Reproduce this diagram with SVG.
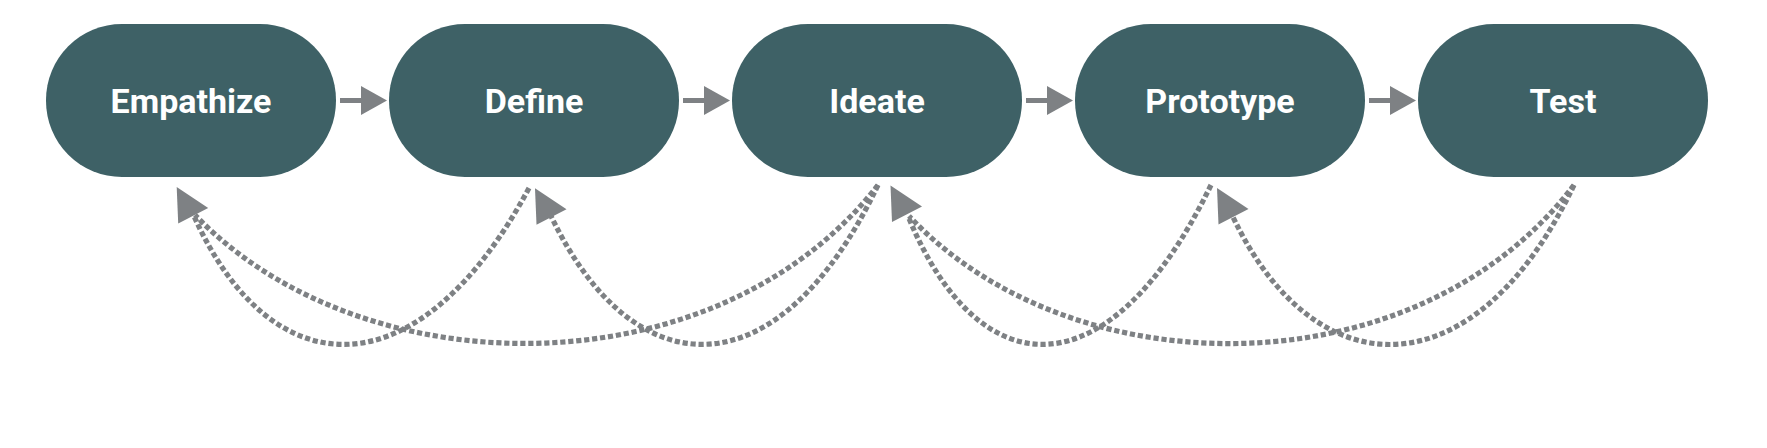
<svg xmlns="http://www.w3.org/2000/svg" width="1767" height="448" viewBox="0 0 1767 448">
  <style>
    .node { fill: #3e6166; }
    .label { fill: #ffffff; font-family: Roboto, "Liberation Sans", sans-serif; font-weight: bold; font-size: 34px; text-anchor: middle; }
    .flow { stroke: #7e8184; stroke-width: 5; fill: none; }
    .loop { stroke: #7e8184; stroke-width: 5.2; fill: none; stroke-dasharray: 5.2 2.8; }
    .head { fill: #7e8184; }
  </style>
  <defs>
    <marker id="arrow" markerUnits="userSpaceOnUse" markerWidth="30" markerHeight="30" refX="4" refY="14.5" orient="auto">
      <path d="M0,0 L26,14.5 L0,29 Z" fill="#7e8184"/>
    </marker>
    <path id="backhead" d="M0,0 L31.5,21 L1.5,36.5 Z"/>
  </defs>
  <rect width="1767" height="448" fill="#ffffff"/>

  <g id="empathize">
    <rect class="node" x="46" y="24" width="290" height="153" rx="76" ry="76"/>
    <text class="label" x="191" y="113">Empathize</text>
  </g>
  <g id="define">
    <rect class="node" x="389" y="24" width="290" height="153" rx="76" ry="76"/>
    <text class="label" x="534" y="113">Define</text>
  </g>
  <g id="ideate">
    <rect class="node" x="732" y="24" width="290" height="153" rx="76" ry="76"/>
    <text class="label" x="877" y="113">Ideate</text>
  </g>
  <g id="prototype">
    <rect class="node" x="1075" y="24" width="290" height="153" rx="76" ry="76"/>
    <text class="label" x="1220" y="113">Prototype</text>
  </g>
  <g id="test">
    <rect class="node" x="1418" y="24" width="290" height="153" rx="76" ry="76"/>
    <text class="label" x="1563" y="113">Test</text>
  </g>

  <g id="connectors">
    <line class="flow" x1="340" y1="100.5" x2="365" y2="100.5" marker-end="url(#arrow)"/>
    <line class="flow" x1="683" y1="100.5" x2="708" y2="100.5" marker-end="url(#arrow)"/>
    <line class="flow" x1="1026" y1="100.5" x2="1051" y2="100.5" marker-end="url(#arrow)"/>
    <line class="flow" x1="1369" y1="100.5" x2="1394" y2="100.5" marker-end="url(#arrow)"/>

    <path class="loop" d="M529,188 C420,392 272,392 193,214"/>
    <path class="loop" d="M878,185 C718,391 364,391 195,215"/>
    <path class="loop" d="M878,185 C780,392 635,392 551,216"/>
    <path class="loop" d="M1211,185 C1111,392 980,392 908,216"/>
    <path class="loop" d="M1574,185 C1418,391 1073,391 909,216"/>
    <path class="loop" d="M1574,185 C1476,392 1316,392 1233,217"/>

    <use href="#backhead" class="head" x="176.7" y="187"/>
    <use href="#backhead" class="head" x="535" y="188.3"/>
    <use href="#backhead" class="head" x="890.5" y="185.5"/>
    <use href="#backhead" class="head" x="1217" y="188"/>
  </g>
</svg>
